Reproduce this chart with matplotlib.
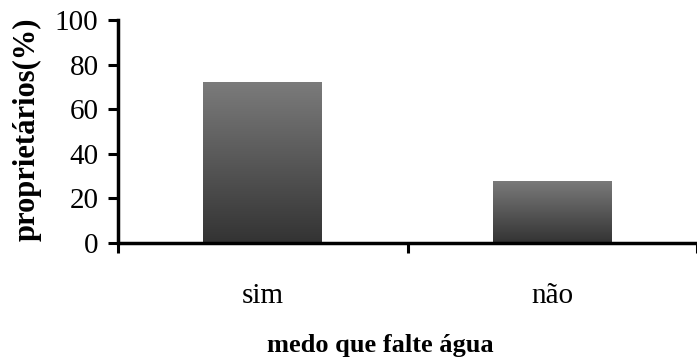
import numpy as np
import matplotlib
matplotlib.use('Agg')
import matplotlib.pyplot as plt
from matplotlib.colors import LinearSegmentedColormap

categories = ['sim', 'não']
values = [72, 28]
y_ticks = [0, 20, 40, 60, 80, 100]

plt.rcParams['font.family'] = ['Liberation Serif', 'DejaVu Serif']

fig = plt.figure(figsize=(6.97, 3.6), dpi=100)
ax = fig.add_axes([118 / 697, 1 - 243 / 360, 1 - 118 / 697, 223 / 360])

x = np.arange(len(categories))
bars = ax.bar(x, values, width=0.41, color='none', edgecolor='none', zorder=2)

# vertical gradient fill, dark at the bottom
cmap = LinearSegmentedColormap.from_list('grad', ['#333333', '#7b7b7b'])
grad = np.linspace(0, 1, 256).reshape(-1, 1)
for b in bars:
    x0, y0 = b.get_x(), b.get_y()
    w, h = b.get_width(), b.get_height()
    im = ax.imshow(grad, cmap=cmap, aspect='auto', origin='lower',
                   extent=[x0, x0 + w, y0, y0 + h], zorder=2)
    im.set_clip_path(b)

ax.set_xlim(-0.5, 1.5)
ax.set_ylim(0, 100)
ax.set_yticks(y_ticks)
ax.set_yticklabels([str(t) for t in y_ticks], fontsize=21)

# category separators as ticks, labels in between
ax.set_xticks([-0.5, 0.5, 1.5])
ax.set_xticklabels([])
ax.set_xticks(x, minor=True)
ax.set_xticklabels(categories, minor=True, fontsize=21)
ax.tick_params(axis='x', which='minor', length=0, pad=29)
ax.tick_params(axis='both', which='major', length=7, width=2.2, direction='out')
ax.tick_params(axis='y', pad=7)

for s in ['top', 'right']:
    ax.spines[s].set_visible(False)
for s in ['left', 'bottom']:
    ax.spines[s].set_linewidth(2.5)
    ax.spines[s].set_zorder(3)
ax.spines['bottom'].set_capstyle('butt')

fig.text(380 / 697, 1 - 352 / 360, 'medo que falte água', ha='center', va='baseline',
         fontsize=19, fontweight='bold')
fig.text(27 / 697, 1 - 129 / 360, 'proprietários(%)', ha='center', va='center',
         rotation=90, fontsize=22, fontweight='bold')

fig.savefig('out.png', dpi=100)
